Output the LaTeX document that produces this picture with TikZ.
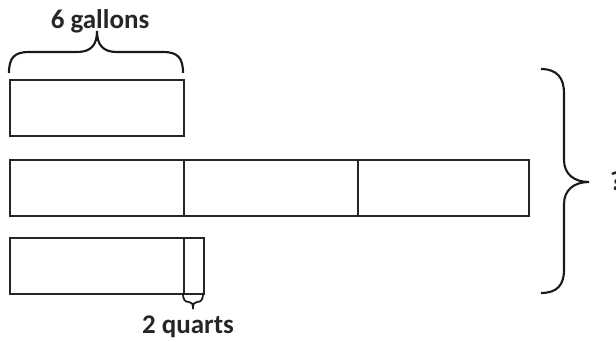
\documentclass[tikz,border=0pt]{standalone}
\usepackage{fontspec}
\setmainfont{Carlito}
\begin{document}
\begin{tikzpicture}[x=1pt,y=-1pt,
  cell/.style={draw=black!85,line width=1.5pt,rectangle,inner sep=0pt,anchor=north west,minimum height=56pt},
  bracepath/.style={draw=black!90,line width=2.1pt},
  lbl/.style={font=\fontsize{27}{32}\selectfont\bfseries,text=black!85,inner sep=0pt}]
\useasboundingbox (0,0) rectangle (616,341);
% row 1
\node[cell,minimum width=174pt] (a1) at (9,79) {};
% row 2
\node[cell,minimum width=174pt] (b1) at (9,159) {};
\node[cell,minimum width=174pt] (b2) at (183,159) {};
\node[cell,minimum width=171pt] (b3) at (357,159) {};
% row 3
\node[cell,minimum width=174pt,minimum height=56pt] (c1) at (9,237) {};
\node[cell,minimum width=20pt,minimum height=56pt] (c2) at (183,237) {};
% top brace
\coordinate (tL) at (9,73);
\coordinate (tT) at (97,31);
\coordinate (tR) at (183,73);
\draw[bracepath] (tL) .. controls (9,58) and (14,52) .. (29,52) -- (77,52)
  .. controls (91,52) and (97,45) .. (tT)
  .. controls (97,45) and (103,52) .. (117,52) -- (163,52)
  .. controls (178,52) and (183,58) .. (tR);
\node[lbl,anchor=base] (gal) at (100,28) {6 gallons};
% small brace
\coordinate (sL) at (183,293);
\coordinate (sT) at (193,309);
\coordinate (sR) at (203,293);
\draw[bracepath,line width=1.7pt] (sL) .. controls (183,300) and (185,302) .. (189,302)
  .. controls (192,302) and (193,304) .. (sT)
  .. controls (193,304) and (194,302) .. (197,302)
  .. controls (201,302) and (203,300) .. (sR);
\node[lbl,anchor=base] (qt) at (188,333) {2 quarts};
% right brace
\coordinate (rT) at (541,69);
\coordinate (rM) at (589,182);
\coordinate (rB) at (541,293);
\draw[bracepath] (rT) .. controls (557,69) and (564,78) .. (564,93) -- (564,160)
  .. controls (564,174) and (574,182) .. (rM)
  .. controls (574,182) and (564,190) .. (564,204) -- (564,270)
  .. controls (564,285) and (557,293) .. (rB);
\node[lbl,anchor=base west] (q) at (610,190) {?};
\end{tikzpicture}
\end{document}
